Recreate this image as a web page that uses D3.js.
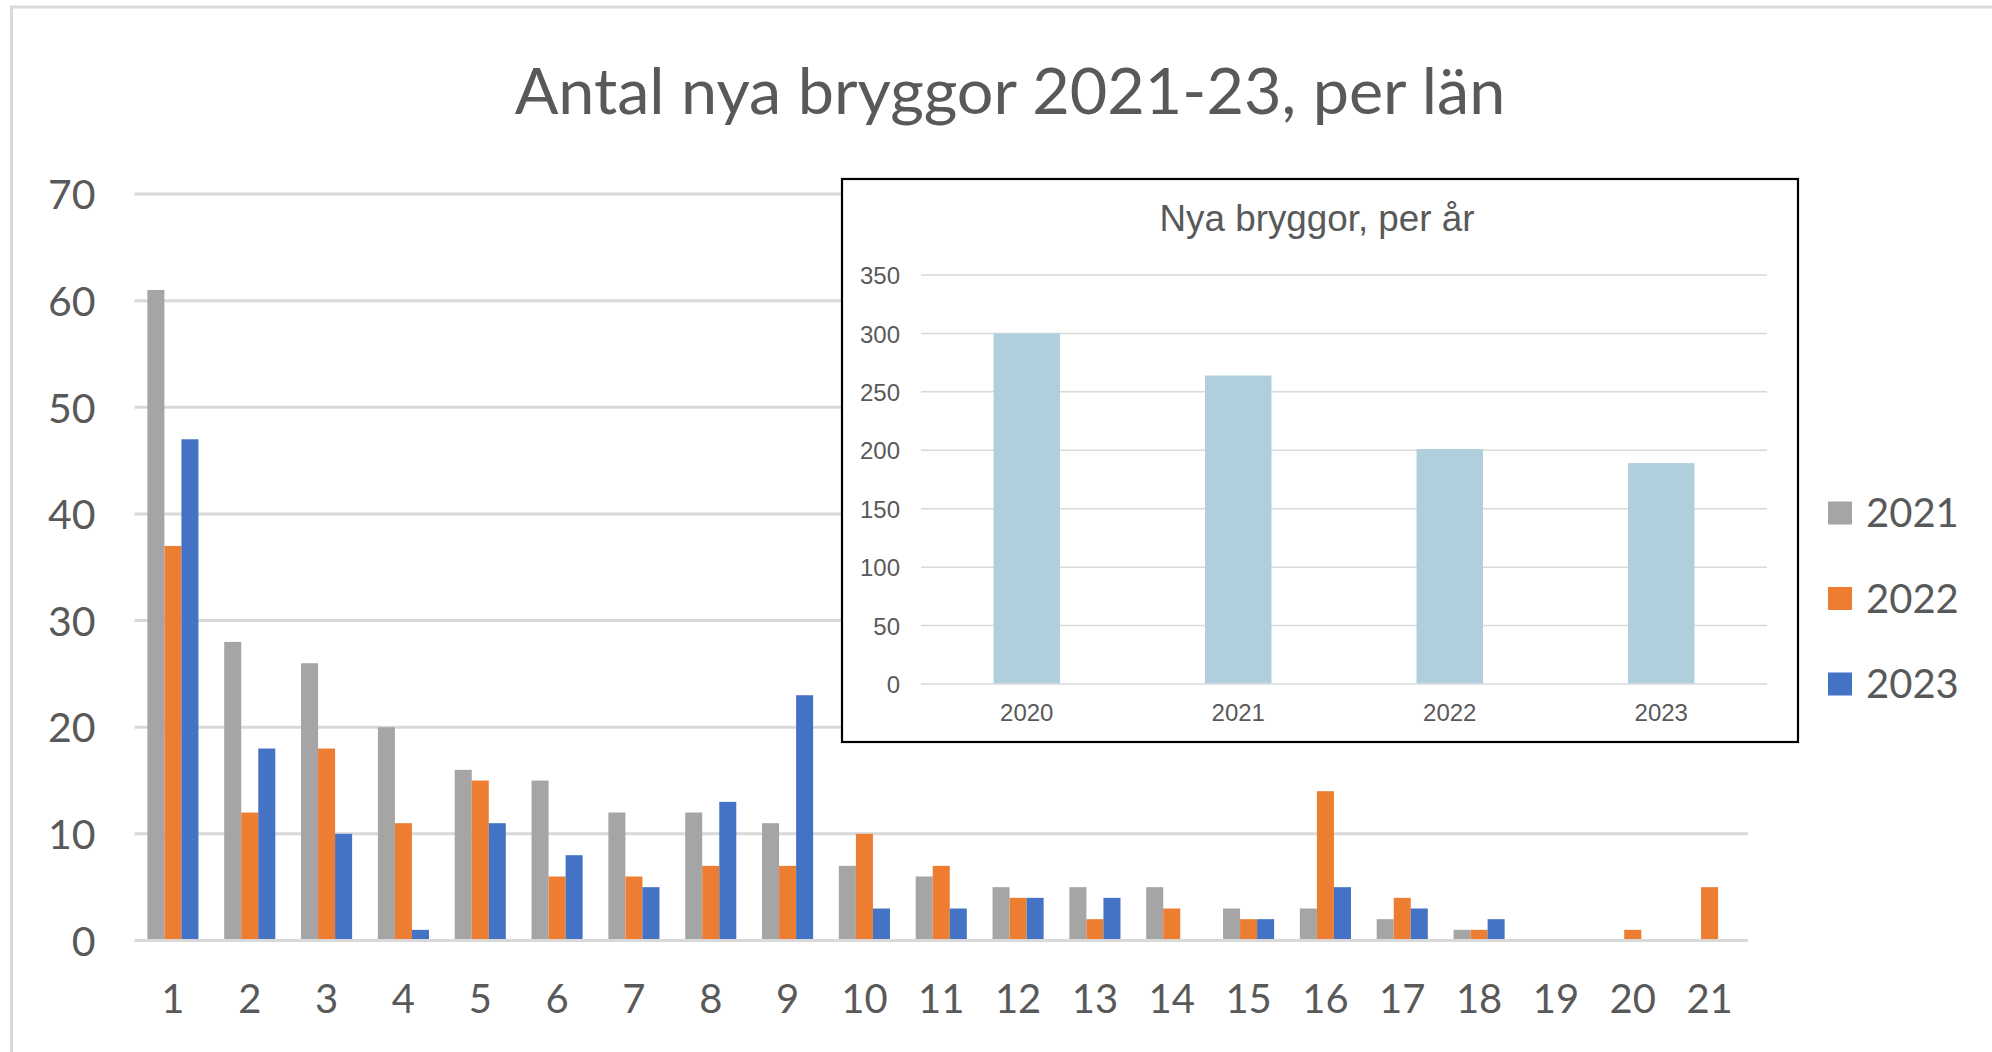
<!DOCTYPE html>
<html><head><meta charset="utf-8">
<script src="https://cdn.jsdelivr.net/npm/d3@7"></script>
<style>html,body{margin:0;padding:0;background:#fff;overflow:hidden}svg{display:block}</style>
</head><body>
<svg id="chart" width="1992" height="1052"></svg>
<script>
// ---- data ----
const categories = ["1","2","3","4","5","6","7","8","9","10","11","12","13","14","15","16","17","18","19","20","21"];
const seriesNames = ["2021","2022","2023"];
const values2021 = [61,28,26,20,16,15,12,12,11,7,6,5,5,5,3,3,2,1,0,0,0];
const values2022 = [37,12,18,11,15,6,6,7,7,10,7,4,2,3,2,14,4,1,0,1,5];
const values2023 = [47,18,10,1,11,8,5,13,23,3,3,4,4,0,2,5,3,2,0,0,0];
const yTicks = [0,10,20,30,40,50,60,70];
const mainTitle = "Antal nya bryggor 2021-23, per län";

const insetTitle = "Nya bryggor, per år";
const insetYears = ["2020","2021","2022","2023"];
const insetValues = [300,264,201,189];
const insetTicks = [0,50,100,150,200,250,300,350];

// ---- styles ----
const colors = ["#a5a5a5","#ed7d31","#4472c4"];
const textColor = "#595959";
const gridColor = "#d9d9d9";
const mainFont = "Lato, 'Open Sans', sans-serif";
const insetFont = "'Liberation Sans', Arial, sans-serif";

const svg = d3.select("#chart");

// outer frame
svg.append("rect").attr("x",11.5).attr("y",7).attr("width",2200).attr("height",1200)
  .attr("fill","#fff").attr("stroke",gridColor).attr("stroke-width",3);

// ---- main chart ----
const plot = {left:134.5, right:1748, top:194, bottom:940.5};
const x0 = d3.scaleBand().domain(categories).range([plot.left, plot.right]).paddingInner(0.335).paddingOuter(0.1675);
const x1 = d3.scaleBand().domain(seriesNames).range([0, x0.bandwidth()]);
const y = d3.scaleLinear().domain([0,70]).range([plot.bottom, plot.top]);

const seriesValues = [values2021, values2022, values2023];
const rows = categories.map((c,i)=>({cat:c, vals: seriesNames.map((s,j)=>({s, v: seriesValues[j][i], j}))}));

// gridlines
svg.append("g").selectAll("line").data(yTicks).join("line")
  .attr("x1",plot.left).attr("x2",plot.right)
  .attr("y1",d=>y(d)).attr("y2",d=>y(d))
  .attr("stroke",gridColor).attr("stroke-width",3);

// y labels
const yAxis = d3.axisLeft(y).tickValues(yTicks).tickSize(0).tickPadding(0);
const gy = svg.append("g").attr("transform",`translate(${plot.left-39},0)`).call(yAxis);
gy.select(".domain").remove();
gy.selectAll("text").attr("font-family",mainFont).attr("font-size",41).attr("fill",textColor).attr("dy","0.36em");

// x labels
const xAxis = d3.axisBottom(x0).tickSize(0).tickPadding(0);
const gx = svg.append("g").attr("transform",`translate(0,${plot.bottom})`).call(xAxis);
gx.select(".domain").remove();
gx.selectAll("text").attr("font-family",mainFont).attr("font-size",40).attr("fill",textColor).attr("dy",0).attr("y",72);

// bars
svg.append("g").selectAll("g").data(rows).join("g")
  .attr("transform",d=>`translate(${x0(d.cat)},0)`)
  .selectAll("rect").data(d=>d.vals).join("rect")
  .attr("x",d=>x1(d.s)).attr("width",x1.bandwidth())
  .attr("y",d=>y(d.v)).attr("height",d=>Math.max(0, y(0)-1.5-y(d.v)))
  .attr("fill",d=>colors[d.j]);

// title
const t = svg.append("text").attr("x",1010).attr("y",114).attr("text-anchor","middle")
  .attr("font-family",mainFont).attr("font-size",60).attr("fill",textColor).text(mainTitle);
const tw = t.node().getComputedTextLength();
t.attr("font-size", 60*991/tw);

// legend
const leg = svg.append("g").selectAll("g").data(seriesNames).join("g")
  .attr("transform",(d,i)=>`translate(1828,${513 + i*85.5})`);
leg.append("rect").attr("x",0).attr("y",-11.5).attr("width",24).attr("height",23).attr("fill",(d,i)=>colors[i]);
leg.append("text").attr("x",38).attr("dy","0.36em").attr("font-family",mainFont).attr("font-size",40)
  .attr("fill",textColor).text(d=>d);

// ---- inset chart ----
const box = {left:842, top:179, right:1798, bottom:742};
svg.append("rect").attr("x",box.left).attr("y",box.top).attr("width",box.right-box.left).attr("height",box.bottom-box.top)
  .attr("fill","#fff").attr("stroke","#000").attr("stroke-width",2.2);

const ip = {left:921, right:1767, top:275, bottom:684};
const ix = d3.scaleBand().domain(insetYears).range([ip.left, ip.right]).paddingInner(0.686).paddingOuter(0.343);
const iy = d3.scaleLinear().domain([0,350]).range([ip.bottom, ip.top]);

svg.append("g").selectAll("line").data(insetTicks).join("line")
  .attr("x1",ip.left).attr("x2",ip.right).attr("y1",d=>iy(d)).attr("y2",d=>iy(d))
  .attr("stroke",gridColor).attr("stroke-width",1.5);

const iyAxis = d3.axisLeft(iy).tickValues(insetTicks).tickSize(0).tickPadding(0);
const giy = svg.append("g").attr("transform",`translate(${ip.left-21},0)`).call(iyAxis);
giy.select(".domain").remove();
giy.selectAll("text").attr("font-family",insetFont).attr("font-size",24).attr("fill",textColor).attr("dy","0.36em");

const ixAxis = d3.axisBottom(ix).tickSize(0).tickPadding(0);
const gix = svg.append("g").attr("transform",`translate(0,${ip.bottom})`).call(ixAxis);
gix.select(".domain").remove();
gix.selectAll("text").attr("font-family",insetFont).attr("font-size",24).attr("fill",textColor).attr("dy",0).attr("y",37);

svg.append("g").selectAll("rect").data(insetValues).join("rect")
  .attr("x",(d,i)=>ix(insetYears[i])).attr("width",ix.bandwidth())
  .attr("y",d=>iy(d)).attr("height",d=>iy(0)-0.75-iy(d))
  .attr("fill","#aecfdb");

const it = svg.append("text").attr("x",1317).attr("y",231).attr("text-anchor","middle")
  .attr("font-family",insetFont).attr("font-size",34).attr("fill",textColor).text(insetTitle);
const itw = it.node().getComputedTextLength();
it.attr("font-size", 34*315/itw);
</script>
</body></html>
